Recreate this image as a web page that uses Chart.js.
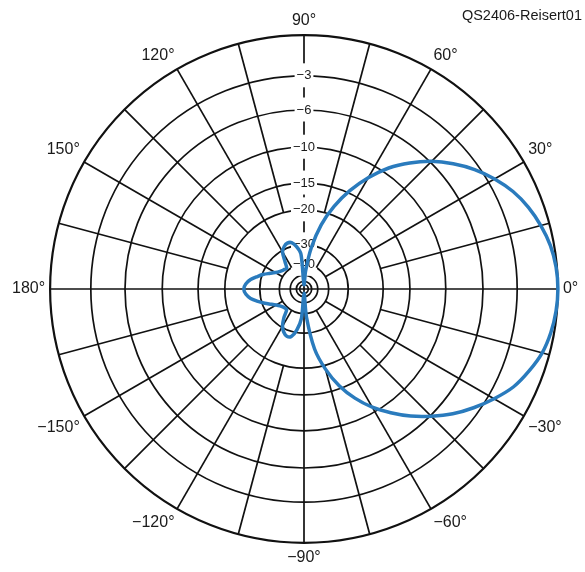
<!DOCTYPE html>
<html>
<head>
<meta charset="utf-8">
<script src="https://cdn.jsdelivr.net/npm/chart.js@4/dist/chart.umd.min.js"></script>
<style>
  html, body { margin: 0; padding: 0; background: #fff; overflow: hidden; width: 585px; height: 572px; }
  #wrap { position: relative; width: 585px; height: 572px; overflow: hidden; }
  #c { position: absolute; left: -5px; top: 0; }
  #title { position: absolute; right: 3px; top: 7px; font: 14.5px "Liberation Sans", Arial, sans-serif; color: #1a1a1a; z-index: 2; }
</style>
</head>
<body>
<div id="wrap">
  <canvas id="c" width="607" height="580"></canvas>
  <div id="title">QS2406-Reisert01</div>
</div>
<script>
// Azimuth angles (degrees), clockwise from the top of the plot
const angles = [90,85,80,75,70,65,60,55,50,45,40,35,30,25,20,15,10,5,
  0,-5,-10,-15,-20,-25,-30,-35,-40,-45,-50,-55,-60,-65,-70,-75,-80,-85,
  -90,-95,-100,-105,-110,-115,-120,-125,-130,-135,-140,-145,-150,-155,-160,-165,-170,-175,
  180,175,170,165,160,155,150,145,140,135,130,125,120,115,110,105,100,95];

const gainDb = [-70,-45.4,-30.9,-23.0,-18.2,-14.6,-11.7,-9.3,-7.45,-5.85,-4.55,-3.4,-2.45,-1.65,-1.05,-0.6,-0.25,-0.06,
  0,-0.06,-0.22,-0.5,-1.0,-1.6,-2.5,-3.5,-4.6,-5.9,-7.3,-8.9,-10.65,-12.8,-15.5,-19.2,-24.5,-37.8,
  -70,-37,-31,-28.2,-27.8,-28.7,-30.5,-34,-38.5,-38.5,-38,-37,-35.5,-33.5,-31,-28.7,-26.5,-25.2,
  -24.7,-25.2,-26.5,-28.5,-30.5,-33,-35,-36.5,-37.5,-38,-38.5,-35,-30.5,-29,-28.3,-28.6,-30.5,-34];

// Grid rings (dB) and their labels
const ringDb = [-70,-60,-50,-40,-30,-20,-15,-10,-6,-3,0];
const ringLabels = ['','','','\u221240','\u221230','\u221220','\u221215','\u221210','\u22126','\u22123',''];

// Angle label step and spoke step (degrees)
const labelStep = 30;
const spokeStep = 15;

// ARRL log-periodic radial scale: radius factor 0.89 per 2 dB
const arrl = db => Math.pow(0.89, -db / 2);

const fmtAngle = a => (a < 0 ? '\u2212' + (-a) : String(a)) + '\u00b0';
const GRID = '#111';
const GW = 1.7;

const spokePlugin = {
  id: 'spokes',
  beforeDatasetsDraw(chart) {
    const s = chart.scales.r;
    const ctx = chart.ctx;
    ctx.save();
    ctx.strokeStyle = GRID;
    ctx.lineWidth = GW;
    angles.forEach((a, i) => {
      if (a % spokeStep !== 0 || a % 90 === 0) return;
      const innerDb = (a % 30 === 0) ? -40 : -20;
      const p0 = s.getPointPositionForValue(i, arrl(innerDb));
      const p1 = s.getPointPositionForValue(i, arrl(0));
      ctx.beginPath();
      ctx.moveTo(p0.x, p0.y);
      ctx.lineTo(p1.x, p1.y);
      ctx.stroke();
    });
    ctx.restore();
  }
};

new Chart(document.getElementById('c'), {
  type: 'radar',
  data: {
    labels: angles.map(fmtAngle),
    datasets: [{
      data: gainDb.map(arrl),
      borderColor: '#2a7bbd',
      borderWidth: 3.5,
      pointRadius: 0,
      fill: false,
      tension: 0.3
    }]
  },
  options: {
    responsive: false,
    animation: false,
    plugins: { legend: { display: false }, tooltip: { enabled: false } },
    layout: { padding: 11 },
    scales: {
      r: {
        min: 0,
        max: 1,
        startAngle: 0,
        afterBuildTicks(scale) {
          scale.ticks = [{ value: 0 }].concat(ringDb.map(d => ({ value: arrl(d) })));
        },
        grid: {
          circular: true,
          color: GRID,
          lineWidth: c => (c.index === ringDb.length ? 2.2 : GW)
        },
        angleLines: {
          display: true,
          color: c => (angles[c.index] % 90 === 0 ? GRID : 'rgba(0,0,0,0)'),
          lineWidth: c => (angles[c.index] % 90 === 0 ? GW : 0)
        },
        pointLabels: {
          padding: -7,
          color: '#1a1a1a',
          font: { family: '"Liberation Sans", Arial, sans-serif', size: 16 },
          callback: (label, i) => (angles[i] % labelStep === 0 ? label : '')
        },
        ticks: {
          display: true,
          color: '#1a1a1a',
          font: { family: '"Liberation Sans", Arial, sans-serif', size: 13 },
          callback: (v, i) => (i === 0 ? '' : ringLabels[i - 1]),
          showLabelBackdrop: c => c.index > 0 && ringLabels[c.index - 1] !== '',
          backdropColor: '#fff',
          backdropPadding: { top: 6, bottom: 5, left: 2, right: 2 }
        }
      }
    }
  },
  plugins: [spokePlugin]
});
</script>
</body>
</html>
